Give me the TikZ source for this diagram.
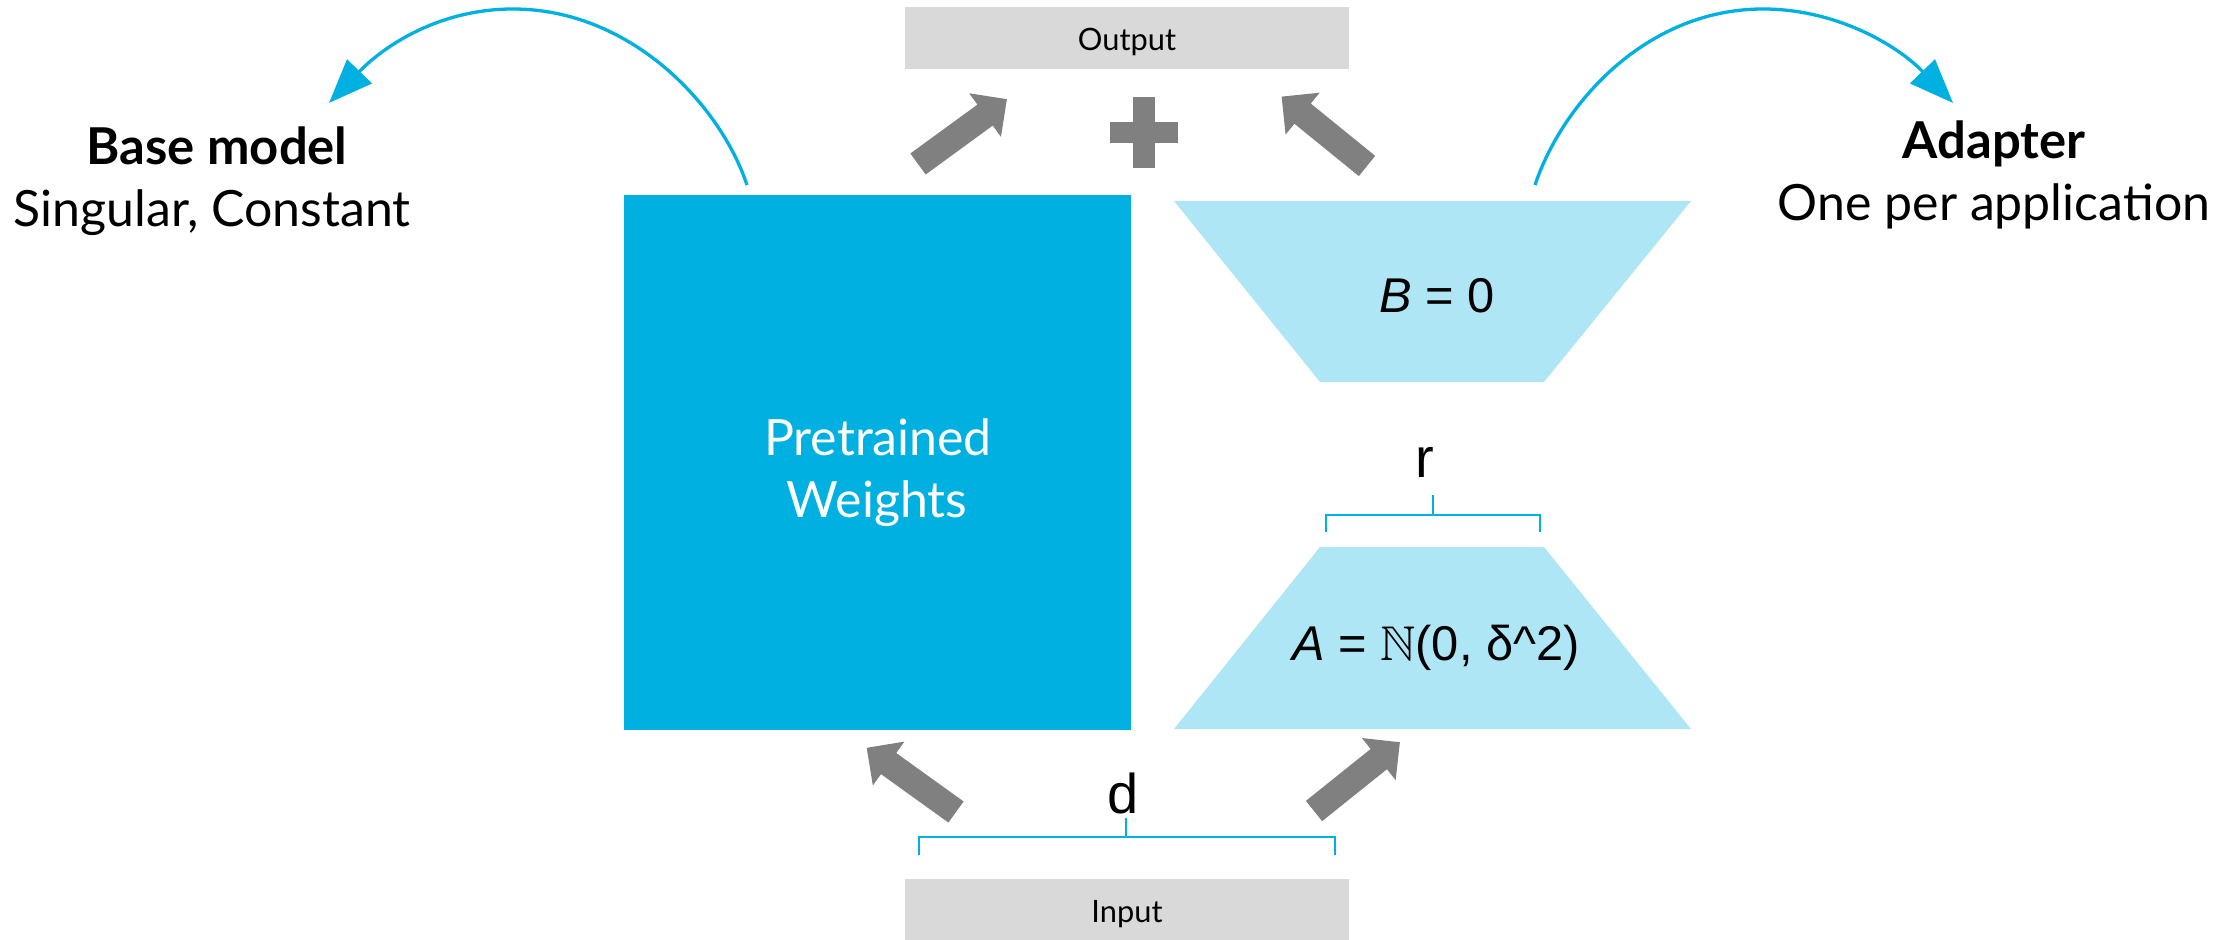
\documentclass[tikz,border=0pt]{standalone}
\usepackage{fontspec}
\usepackage{amssymb}
\setmainfont{Lato}
\newfontfamily\formulafont{Liberation Sans}
\usetikzlibrary{arrows.meta}

\definecolor{weightblue}{RGB}{0,176,224}
\definecolor{adapterblue}{RGB}{175,230,245}
\definecolor{flowgray}{RGB}{128,128,128}
\definecolor{iogray}{RGB}{217,217,217}

\tikzset{
  flowarrow/.pic={
    \fill[flowgray] (0,-13) -- (83,-13) -- (83,-27) -- (110,0)
      -- (83,27) -- (83,13) -- (0,13) -- cycle;
  },
  iobox/.style={fill=iogray, inner sep=0pt, minimum width=222pt, minimum height=31pt},
  iotext/.style={anchor=base, inner sep=0pt, font=\fontsize{15.4}{18}\selectfont},
  captext/.style={anchor=base, inner sep=0pt, font=\fontsize{25}{30}\selectfont},
  capbold/.style={anchor=base, inner sep=0pt, font=\fontsize{25.4}{30}\selectfont\bfseries},
  eqtext/.style={anchor=base, inner sep=0pt, font=\formulafont\fontsize{24.4}{29}\selectfont},
  dimtext/.style={anchor=base, inner sep=0pt, font=\formulafont\fontsize{28}{33}\selectfont},
  bracket/.style={draw=weightblue, line width=1pt},
  swing/.style={draw=weightblue, line width=1.65pt, -{Triangle[length=22pt,width=17pt]}},
}

\begin{document}
\begin{tikzpicture}[x=0.5pt,y=-0.5pt]
\useasboundingbox (0,0) rectangle (2236,940);

% input and output bars
\node[iobox] (out) at (1127,38) {};
\node[iotext] (outtext) at (1127,51) {Output};
\node[iobox, minimum height=30.5pt] (in) at (1127,909.5) {};
\node[iotext] (intext) at (1127,922) {Input};

% frozen weight matrix
\node[fill=weightblue, inner sep=0pt, minimum width=253.5pt, minimum height=267.5pt] (pw) at (877.5,462.5) {};
\node[captext, text=white] (pwline1) at (878,456) {Pretrained};
\node[captext, text=white] (pwline2) at (877,517) {Weights};

% low-rank adapter matrices
\fill[adapterblue] (1174,201) -- (1691,201) -- (1544,382) -- (1320,382) -- cycle;
\fill[adapterblue] (1320,547) -- (1544,547) -- (1691,729) -- (1174,729) -- cycle;
\node[eqtext] (beq) at (1437,313) {\textit{B} = 0};
\node[eqtext] (aeq) at (1436,660) {\textit{A} = $\mathbb{N}$(0, δ\textasciicircum 2)};

% rank bracket
\draw[bracket] (1326,532) -- (1326,515) -- (1540,515) -- (1540,532);
\draw[bracket] (1433,515) -- (1433,495);
\node[dimtext] (rlab) at (1425,478) {r};

% width bracket
\draw[bracket] (919,855) -- (919,837) -- (1335,837) -- (1335,855);
\draw[bracket] (1126,837) -- (1126,818);
\node[dimtext] (dlab) at (1123,813) {d};

% data flow arrows and the sum
\pic[rotate=36.1] at (918,164) {flowarrow};
\pic[rotate=140.9] at (1367,166) {flowarrow};
\pic[rotate=144.3] at (956,812) {flowarrow};
\pic[rotate=38.7] at (1314,811) {flowarrow};
\fill[flowgray] (1133,97) rectangle (1155,168);
\fill[flowgray] (1110,122) rectangle (1178,143);

% side captions
\node[capbold] (basetitle) at (217,165) {Base model};
\node[captext] (basesub) at (212,227) {Singular, Constant};
\node[capbold] (adtitle) at (1994,159) {Adapter};
\node[captext] (adsub) at (1994,221) {One per application};

% curved pointers to the captions
\coordinate (lstart) at (747,185);
\coordinate (lpeak) at (513,9);
\coordinate (ltip) at (329,103);
\coordinate (rstart) at (1535,185);
\coordinate (rpeak) at (1763,9);
\coordinate (rtip) at (1953,103);
\draw[swing] (lstart) .. controls (720,104) and (630,9) .. (lpeak)
  .. controls (440,9) and (385,45) .. (ltip);
\draw[swing] (rstart) .. controls (1562,104) and (1646,9) .. (rpeak)
  .. controls (1836,9) and (1897,45) .. (rtip);
\end{tikzpicture}
\end{document}
